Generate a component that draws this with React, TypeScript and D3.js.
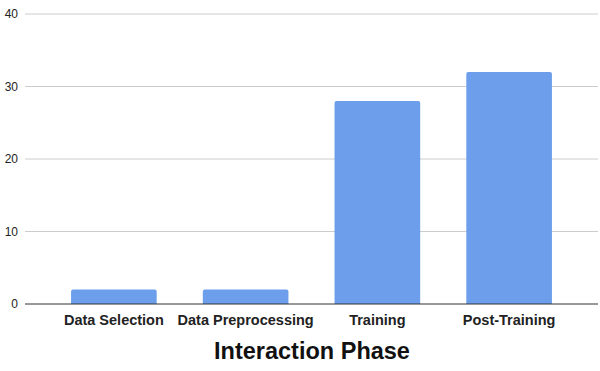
import React from "react"
import * as d3 from "d3"

const phases = ["Data Selection", "Data Preprocessing", "Training", "Post-Training"]
const counts = [2, 2, 28, 32]
const yTicks = [0, 10, 20, 30, 40]

const width = 600
const height = 371
const plot = { left: 25, right: 598, top: 14, bottom: 304 }

export default function App() {
  const x = d3
    .scaleBand<string>()
    .domain(phases)
    .range([48, 575])
    .paddingInner(0.35)
    .paddingOuter(0.175)

  const y = d3.scaleLinear().domain([0, 40]).range([plot.bottom, plot.top])

  const font = "Arial, 'Liberation Sans', sans-serif"

  // top corners rounded a little, bottom square
  const barPath = (x0: number, y0: number, w: number, h: number) => {
    const r = Math.min(2, h / 2)
    return `M${x0},${y0 + h}V${y0 + r}Q${x0},${y0} ${x0 + r},${y0}H${x0 + w - r}Q${x0 + w},${y0} ${x0 + w},${y0 + r}V${y0 + h}Z`
  }

  return (
    <svg
      width={width}
      height={height}
      style={{ position: "absolute", left: 0, top: 0, background: "white" }}
      fontFamily={font}
    >
      <rect width={width} height={height} fill="white" />
      {yTicks.map(t => (
        <g key={t}>
          {t !== 0 && (
            <line
              x1={plot.left}
              x2={plot.right}
              y1={y(t)}
              y2={y(t)}
              stroke="#cccccc"
              strokeWidth={1}
            />
          )}
          <text
            x={18}
            y={y(t)}
            dy="0.35em"
            textAnchor="end"
            fontSize={12}
            fill="#222"
          >
            {t}
          </text>
        </g>
      ))}
      {phases.map((p, i) => (
        <path
          key={p}
          d={barPath(x(p)!, y(counts[i]), x.bandwidth(), y(0) - y(counts[i]))}
          fill="#6d9eeb"
        />
      ))}
      <line
        x1={plot.left}
        x2={plot.right}
        y1={plot.bottom}
        y2={plot.bottom}
        stroke="#333"
        strokeWidth={1}
      />
      {phases.map(p => (
        <text
          key={p}
          x={x(p)! + x.bandwidth() / 2}
          y={325}
          textAnchor="middle"
          fontSize={14.5}
          fontWeight="bold"
          fill="#222"
        >
          {p}
        </text>
      ))}
      <text
        x={312}
        y={359}
        textAnchor="middle"
        fontSize={23.5}
        fontWeight="bold"
        fill="#111"
      >
        Interaction Phase
      </text>
    </svg>
  )
}
